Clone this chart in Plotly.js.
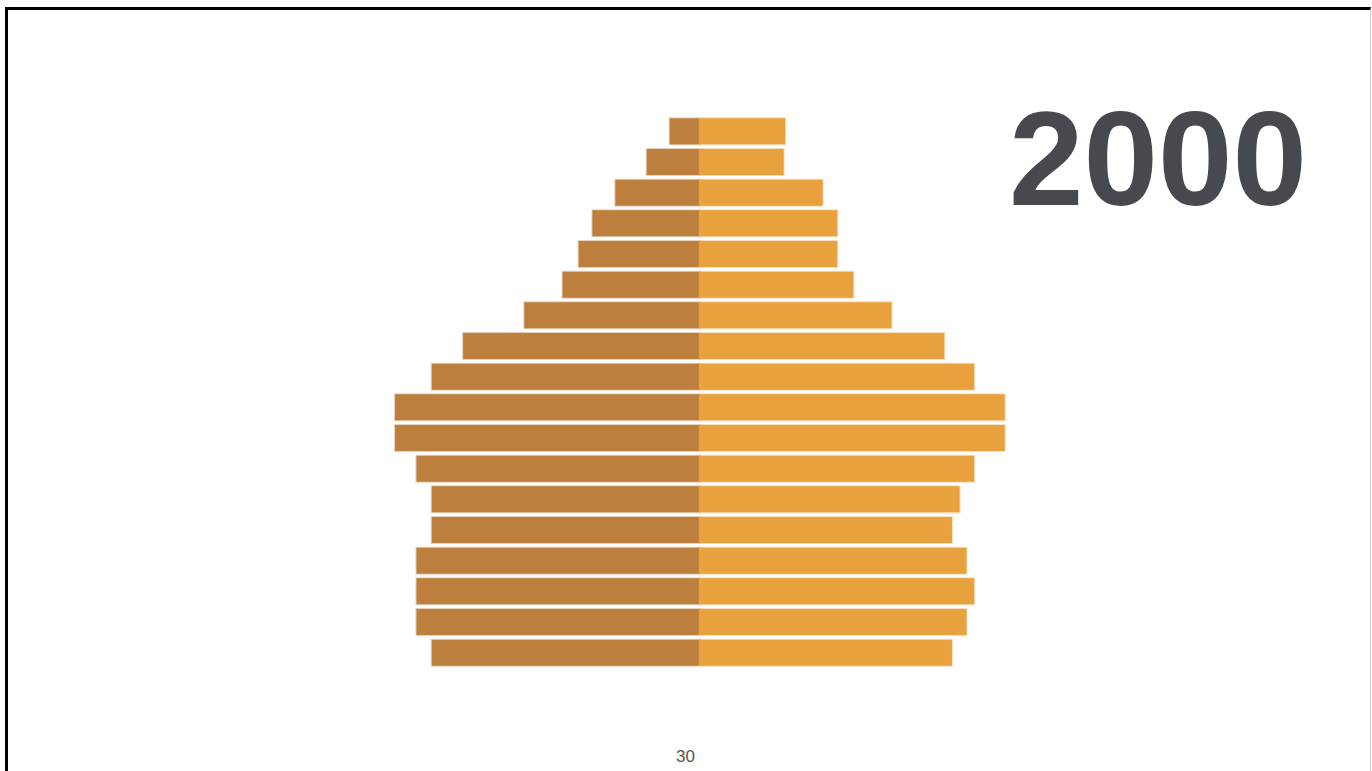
<!DOCTYPE html>
<html>
<head>
<meta charset="utf-8">
<script src="https://cdn.plot.ly/plotly-3.0.1.min.js"></script>
<style>
  html, body { margin: 0; padding: 0; background: #fff; overflow: hidden; }
  #chart { width: 1372px; height: 771px; }
  #frame { position: absolute; left: 5px; top: 7px; width: 1362px; height: 800px;
           border-left: 3px solid #000; border-top: 3px solid #000; border-right: 1px solid #cfcfcf;
           pointer-events: none; box-sizing: content-box; }
</style>
</head>
<body>
<div id="chart"></div>
<div id="frame"></div>
<script>
// Age groups, youngest at the bottom
const ageGroups = ["0-4","5-9","10-14","15-19","20-24","25-29","30-34","35-39","40-44",
                   "45-49","50-54","55-59","60-64","65-69","70-74","75-79","80-84","85+"];
// Male population (drawn to the left)
const maleValues = [35, 37, 37, 37, 35, 35, 37, 39.8, 39.8, 35, 30.9, 22.9, 17.9, 15.8, 14, 11, 6.9, 3.9];
// Female population (drawn to the right)
const femaleValues = [33, 34.9, 35.9, 34.9, 33, 34, 35.9, 39.9, 39.9, 35.9, 32, 25.1, 20.1, 18, 18, 16.1, 11, 11.2];
const yearLabel = "2000";
const sliderLabel = "30";

const maleColor = "#BD7F3E";
const femaleColor = "#E9A13E";

const traces = [
  {
    type: "bar", orientation: "h", name: "Male",
    y: ageGroups, x: maleValues.map(v => -v),
    marker: { color: maleColor, line: { color: "rgba(189,127,62,0.35)", width: 2 } },
    hoverinfo: "skip"
  },
  {
    type: "bar", orientation: "h", name: "Female",
    y: ageGroups, x: femaleValues,
    marker: { color: femaleColor, line: { color: "rgba(233,161,62,0.35)", width: 2 } },
    hoverinfo: "skip"
  }
];

const layout = {
  width: 1372, height: 771,
  paper_bgcolor: "#ffffff", plot_bgcolor: "#ffffff",
  margin: { l: 317, r: 290, t: 116, b: 103, pad: 0 },
  barmode: "relative",
  bargap: 0.15,
  showlegend: false,
  font: { family: "Liberation Sans, Arial, sans-serif" },
  xaxis: { range: [-50, 50], showgrid: false, zeroline: false, showticklabels: false, showline: false, ticks: "" },
  yaxis: { type: "category", range: [-0.5, 17.5], showgrid: false, zeroline: false, showticklabels: false, showline: false, ticks: "" },
  annotations: [
    {
      text: "<b>" + yearLabel + "</b>", xref: "paper", yref: "paper",
      x: 1.0987, y: 0.923, xanchor: "center", yanchor: "middle", showarrow: false,
      font: { size: 134, color: "#464A4F", family: "Liberation Sans, Arial, sans-serif" }
    },
    {
      text: sliderLabel, xref: "paper", yref: "paper",
      x: 0.482, y: -0.161, xanchor: "center", yanchor: "middle", showarrow: false,
      font: { size: 17, color: "#555555", family: "Liberation Sans, Arial, sans-serif" }
    }
  ]
};

Plotly.newPlot("chart", traces, layout, { displayModeBar: false, staticPlot: true });
</script>
</body>
</html>
